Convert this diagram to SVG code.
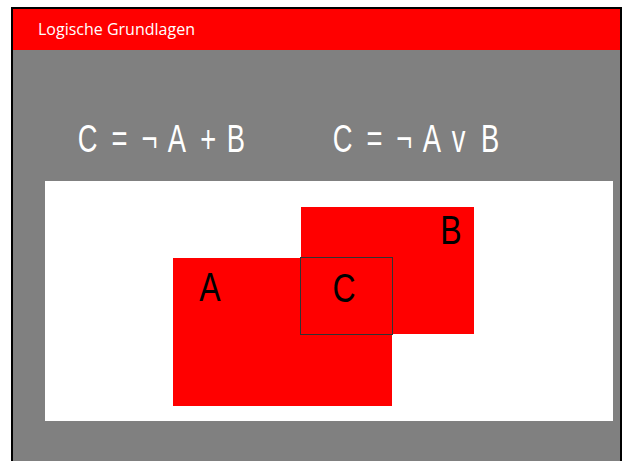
<svg xmlns="http://www.w3.org/2000/svg" width="625" height="461" viewBox="0 0 625 461">
<style>
.big{font-family:"Liberation Sans",Arial,sans-serif;font-size:38px;fill:#ffffff}
.lbl{font-family:"Liberation Sans",Arial,sans-serif;font-size:40px;fill:#000000}
.box{fill:#ff0000}
</style>
<rect x="0" y="0" width="625" height="461" fill="#ffffff"/>
<rect x="12" y="8" width="609" height="460" fill="#808080" stroke="#000000" stroke-width="2"/>
<rect x="13" y="9" width="607" height="41" fill="#ff0000"/>
<text x="38" y="35" font-family="'Open Sans','Liberation Sans',sans-serif" font-size="16" fill="#ffffff">Logische Grundlagen</text>
<g transform="scale(0.72,1)">
<text class="big" y="152.5"><tspan x="108">C </tspan><tspan x="155">= </tspan><tspan x="196.5">¬ </tspan><tspan x="233">A </tspan><tspan x="278">+ </tspan><tspan x="315">B</tspan></text>
<text class="big" y="152.5"><tspan x="462">C </tspan><tspan x="509">= </tspan><tspan x="550.5">¬ </tspan><tspan x="587">A </tspan><tspan x="627.5">v </tspan><tspan x="668">B</tspan></text>
</g>
<rect x="45" y="181" width="568" height="240" fill="#ffffff"/>
<g id="A"><rect class="box" x="173" y="258" width="219" height="148"/><text class="lbl" transform="translate(210,301) scale(0.8,1)" text-anchor="middle">A</text></g>
<g id="B"><rect class="box" x="301" y="207" width="173" height="127"/><text class="lbl" transform="translate(451,244) scale(0.8,1)" text-anchor="middle">B</text></g>
<g id="C"><rect x="300.5" y="257.5" width="92" height="77" fill="#ff0000" stroke="#333333" stroke-width="1"/><text class="lbl" transform="translate(344,302) scale(0.8,1)" text-anchor="middle">C</text></g>
</svg>
